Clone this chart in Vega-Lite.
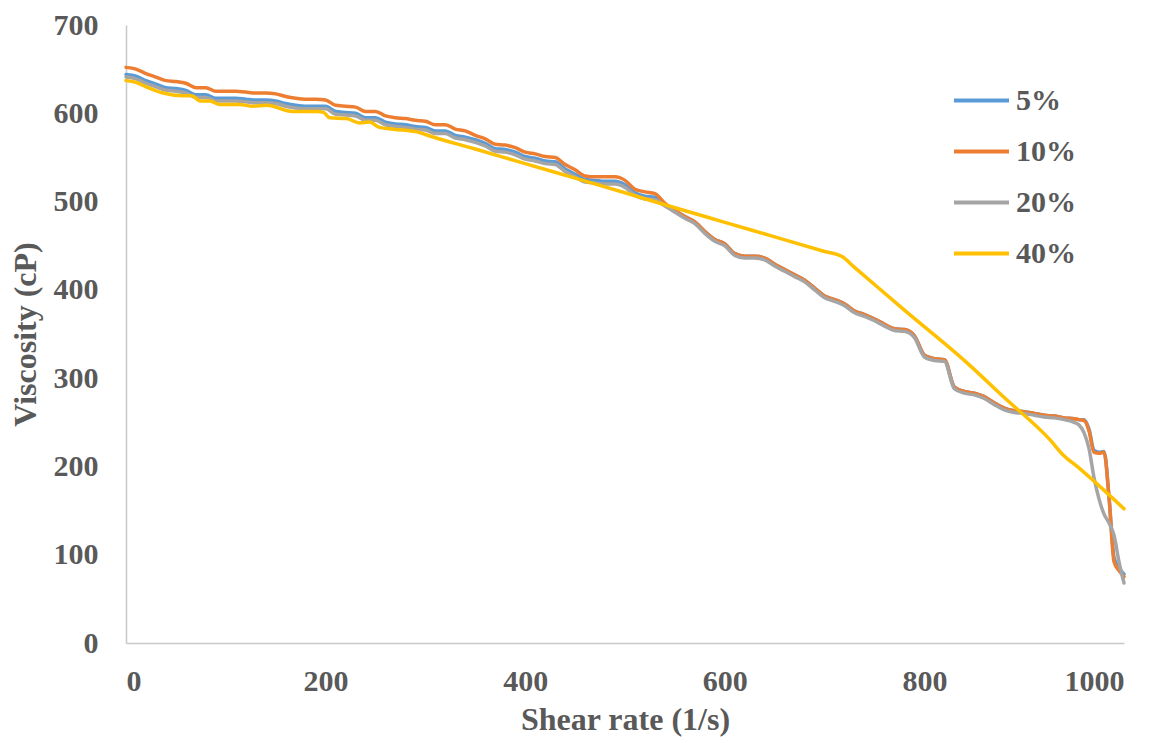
{
  "$schema": "https://vega.github.io/schema/vega-lite/v6.json",
  "width": 998,
  "height": 618,
  "autosize": {"type": "none"},
  "padding": {"left": 126, "top": 25, "right": 41, "bottom": 100},
  "background": "white",
  "config": {
    "view": {"stroke": null},
    "font": "Liberation Serif",
    "axis": {
      "grid": false,
      "ticks": false,
      "domainColor": "#C8C8C8",
      "domainWidth": 1.5,
      "labelFont": "Liberation Serif",
      "labelFontWeight": "bold",
      "labelFontSize": 30,
      "labelColor": "#595959",
      "titleFont": "Liberation Serif",
      "titleFontWeight": "bold",
      "titleFontSize": 32,
      "titleColor": "#595959"
    }
  },
  "datasets": {
    "lowConc": [
      {"x": 0, "5%": 644, "10%": 652, "20%": 641},
      {"x": 10, "5%": 642, "10%": 650, "20%": 639},
      {"x": 20, "5%": 637, "10%": 645, "20%": 634},
      {"x": 30, "5%": 633, "10%": 641, "20%": 630},
      {"x": 40, "5%": 629, "10%": 637, "20%": 626},
      {"x": 50, "5%": 628, "10%": 636, "20%": 625},
      {"x": 60, "5%": 626, "10%": 634, "20%": 623},
      {"x": 70, "5%": 621, "10%": 629, "20%": 618},
      {"x": 80, "5%": 621, "10%": 629, "20%": 618},
      {"x": 90, "5%": 617, "10%": 625, "20%": 614},
      {"x": 100, "5%": 617, "10%": 625, "20%": 614},
      {"x": 110, "5%": 617, "10%": 625, "20%": 614},
      {"x": 120, "5%": 616, "10%": 624, "20%": 613},
      {"x": 130, "5%": 615, "10%": 623, "20%": 612},
      {"x": 140, "5%": 615, "10%": 623, "20%": 612},
      {"x": 150, "5%": 614, "10%": 622, "20%": 611},
      {"x": 160, "5%": 611, "10%": 619, "20%": 608},
      {"x": 170, "5%": 609, "10%": 617, "20%": 606},
      {"x": 180, "5%": 608, "10%": 616, "20%": 605},
      {"x": 190, "5%": 608, "10%": 616, "20%": 605},
      {"x": 200, "5%": 608, "10%": 615, "20%": 605},
      {"x": 210, "5%": 602, "10%": 609, "20%": 599},
      {"x": 220, "5%": 601, "10%": 608, "20%": 598},
      {"x": 230, "5%": 600, "10%": 607, "20%": 597},
      {"x": 240, "5%": 595, "10%": 602, "20%": 592},
      {"x": 250, "5%": 595, "10%": 602, "20%": 592},
      {"x": 260, "5%": 590, "10%": 597, "20%": 587},
      {"x": 270, "5%": 588, "10%": 595, "20%": 585},
      {"x": 280, "5%": 587, "10%": 594, "20%": 584},
      {"x": 290, "5%": 585, "10%": 592, "20%": 582},
      {"x": 300, "5%": 584, "10%": 591, "20%": 581},
      {"x": 310, "5%": 580, "10%": 587, "20%": 577},
      {"x": 320, "5%": 580, "10%": 587, "20%": 577},
      {"x": 330, "5%": 575, "10%": 582, "20%": 572},
      {"x": 340, "5%": 573, "10%": 580, "20%": 570},
      {"x": 350, "5%": 570, "10%": 575, "20%": 567},
      {"x": 360, "5%": 566, "10%": 571, "20%": 563},
      {"x": 370, "5%": 560, "10%": 565, "20%": 557},
      {"x": 380, "5%": 559, "10%": 564, "20%": 556},
      {"x": 390, "5%": 556, "10%": 561, "20%": 553},
      {"x": 400, "5%": 551, "10%": 556, "20%": 548},
      {"x": 410, "5%": 549, "10%": 554, "20%": 546},
      {"x": 420, "5%": 546, "10%": 551, "20%": 543},
      {"x": 430, "5%": 545, "10%": 550, "20%": 542},
      {"x": 440, "5%": 537, "10%": 542, "20%": 534},
      {"x": 450, "5%": 531, "10%": 536, "20%": 528},
      {"x": 460, "5%": 525, "10%": 529, "20%": 522},
      {"x": 470, "5%": 524, "10%": 528, "20%": 521},
      {"x": 480, "5%": 523, "10%": 528, "20%": 520},
      {"x": 490, "5%": 523, "10%": 528, "20%": 520},
      {"x": 500, "5%": 519, "10%": 524, "20%": 516},
      {"x": 510, "5%": 510, "10%": 514, "20%": 507},
      {"x": 520, "5%": 506, "10%": 511, "20%": 503},
      {"x": 530, "5%": 505, "10%": 509, "20%": 502},
      {"x": 540, "5%": 497, "10%": 498, "20%": 495},
      {"x": 550, "5%": 490, "10%": 490, "20%": 488},
      {"x": 560, "5%": 483, "10%": 483, "20%": 481},
      {"x": 570, "5%": 477, "10%": 477, "20%": 475},
      {"x": 580, "5%": 466, "10%": 466, "20%": 464},
      {"x": 590, "5%": 457, "10%": 457, "20%": 455},
      {"x": 600, "5%": 452, "10%": 452, "20%": 450},
      {"x": 610, "5%": 441, "10%": 441, "20%": 439},
      {"x": 620, "5%": 438, "10%": 438, "20%": 436},
      {"x": 630, "5%": 438, "10%": 438, "20%": 436},
      {"x": 640, "5%": 436, "10%": 436, "20%": 434},
      {"x": 650, "5%": 429, "10%": 429, "20%": 427},
      {"x": 660, "5%": 423, "10%": 423, "20%": 421},
      {"x": 670, "5%": 417, "10%": 417, "20%": 415},
      {"x": 680, "5%": 411, "10%": 411, "20%": 409},
      {"x": 690, "5%": 402, "10%": 402, "20%": 400},
      {"x": 700, "5%": 393, "10%": 393, "20%": 391},
      {"x": 710, "5%": 389, "10%": 389, "20%": 387},
      {"x": 720, "5%": 384, "10%": 384, "20%": 382},
      {"x": 730, "5%": 376, "10%": 376, "20%": 374},
      {"x": 740, "5%": 372, "10%": 372, "20%": 370},
      {"x": 750, "5%": 367, "10%": 367, "20%": 365},
      {"x": 760, "5%": 361, "10%": 361, "20%": 359},
      {"x": 770, "5%": 356, "10%": 356, "20%": 354},
      {"x": 780, "5%": 355, "10%": 355, "20%": 353},
      {"x": 790, "5%": 348, "10%": 348, "20%": 346},
      {"x": 800, "5%": 326, "10%": 326, "20%": 324},
      {"x": 810, "5%": 322, "10%": 322, "20%": 320},
      {"x": 820, "5%": 321, "10%": 321, "20%": 319},
      {"x": 830, "5%": 290, "10%": 290, "20%": 288},
      {"x": 840, "5%": 285, "10%": 285, "20%": 283},
      {"x": 850, "5%": 283, "10%": 283, "20%": 281},
      {"x": 860, "5%": 279, "10%": 279, "20%": 277},
      {"x": 870, "5%": 272, "10%": 272, "20%": 270},
      {"x": 880, "5%": 266, "10%": 266, "20%": 264},
      {"x": 890, "5%": 263, "10%": 263, "20%": 261},
      {"x": 900, "5%": 262, "10%": 262, "20%": 260},
      {"x": 910, "5%": 260, "10%": 260, "20%": 258},
      {"x": 920, "5%": 258, "10%": 258, "20%": 256},
      {"x": 930, "5%": 257, "10%": 257, "20%": 255},
      {"x": 940, "5%": 255, "10%": 255, "20%": 253},
      {"x": 950, "5%": 254, "10%": 254, "20%": 250},
      {"x": 955, "5%": 253, "10%": 253, "20%": 247},
      {"x": 960, "5%": 253, "10%": 252, "20%": 238},
      {"x": 965, "5%": 242, "10%": 240, "20%": 220},
      {"x": 970, "5%": 218, "10%": 216, "20%": 187},
      {"x": 975, "5%": 216, "10%": 215, "20%": 163},
      {"x": 980, "5%": 217, "10%": 216, "20%": 146},
      {"x": 985, "5%": 165, "10%": 165, "20%": 136},
      {"x": 990, "5%": 97, "10%": 92, "20%": 122},
      {"x": 995, "5%": 85, "10%": 82, "20%": 92},
      {"x": 1000, "5%": 78, "10%": 75, "20%": 68}
    ],
    "highConc": [
      {"series": "40%", "x": 0, "viscosity": 637},
      {"series": "40%", "x": 10, "viscosity": 635},
      {"series": "40%", "x": 20, "viscosity": 630},
      {"series": "40%", "x": 37, "viscosity": 623},
      {"series": "40%", "x": 57, "viscosity": 620},
      {"series": "40%", "x": 66, "viscosity": 620},
      {"series": "40%", "x": 74, "viscosity": 614},
      {"series": "40%", "x": 84, "viscosity": 614},
      {"series": "40%", "x": 94, "viscosity": 610},
      {"series": "40%", "x": 114, "viscosity": 610},
      {"series": "40%", "x": 127, "viscosity": 608},
      {"series": "40%", "x": 141, "viscosity": 609},
      {"series": "40%", "x": 167, "viscosity": 602},
      {"series": "40%", "x": 191, "viscosity": 602},
      {"series": "40%", "x": 198, "viscosity": 601},
      {"series": "40%", "x": 204, "viscosity": 595},
      {"series": "40%", "x": 221, "viscosity": 594},
      {"series": "40%", "x": 234, "viscosity": 589},
      {"series": "40%", "x": 244, "viscosity": 590},
      {"series": "40%", "x": 254, "viscosity": 584},
      {"series": "40%", "x": 268, "viscosity": 582},
      {"series": "40%", "x": 295, "viscosity": 578},
      {"series": "40%", "x": 300, "viscosity": 576},
      {"series": "40%", "x": 350, "viscosity": 559.5},
      {"series": "40%", "x": 400, "viscosity": 543},
      {"series": "40%", "x": 450, "viscosity": 526.5},
      {"series": "40%", "x": 500, "viscosity": 510},
      {"series": "40%", "x": 550, "viscosity": 493},
      {"series": "40%", "x": 600, "viscosity": 476.5},
      {"series": "40%", "x": 650, "viscosity": 460},
      {"series": "40%", "x": 700, "viscosity": 443.5},
      {"series": "40%", "x": 717, "viscosity": 438},
      {"series": "40%", "x": 730, "viscosity": 425.5},
      {"series": "40%", "x": 780, "viscosity": 377},
      {"series": "40%", "x": 843, "viscosity": 317},
      {"series": "40%", "x": 880, "viscosity": 278},
      {"series": "40%", "x": 926, "viscosity": 230},
      {"series": "40%", "x": 939, "viscosity": 213},
      {"series": "40%", "x": 953, "viscosity": 200},
      {"series": "40%", "x": 1000, "viscosity": 152}
    ]
  },
  "encoding": {
    "x": {
      "field": "x",
      "type": "quantitative",
      "title": "Shear rate (1/s)",
      "scale": {"domain": [0, 1000], "nice": false},
      "axis": {"values": [0, 200, 400, 600, 800, 1000], "format": "d", "labelPadding": 23, "titlePadding": 8}
    },
    "y": {
      "field": "viscosity",
      "type": "quantitative",
      "title": "Viscosity (cP)",
      "scale": {"domain": [0, 700], "nice": false},
      "axis": {"values": [0, 100, 200, 300, 400, 500, 600, 700], "labelPadding": 28, "titlePadding": 11}
    },
    "color": {
      "field": "series",
      "type": "nominal",
      "title": null,
      "scale": {
        "domain": ["5%", "10%", "20%", "40%"],
        "range": ["#5B9BD5", "#ED7D31", "#A5A5A5", "#FFC000"]
      },
      "legend": {
        "orient": "none",
        "legendX": 826,
        "legendY": 46,
        "symbolType": "stroke",
        "symbolSize": 3025,
        "symbolStrokeWidth": 4,
        "rowPadding": 6,
        "labelOffset": 5,
        "labelFont": "Liberation Serif",
        "labelFontWeight": "bold",
        "labelFontSize": 30,
        "labelColor": "#595959"
      }
    }
  },
  "layer": [
    {
      "data": {"name": "lowConc"},
      "transform": [{"fold": ["5%", "10%", "20%"], "as": ["series", "viscosity"]}],
      "mark": {"type": "line", "interpolate": "monotone", "strokeWidth": 3.5, "strokeJoin": "round", "strokeCap": "round"}
    },
    {
      "data": {"name": "highConc"},
      "mark": {"type": "line", "interpolate": "monotone", "strokeWidth": 3.5, "strokeJoin": "round", "strokeCap": "round"}
    }
  ]
}
